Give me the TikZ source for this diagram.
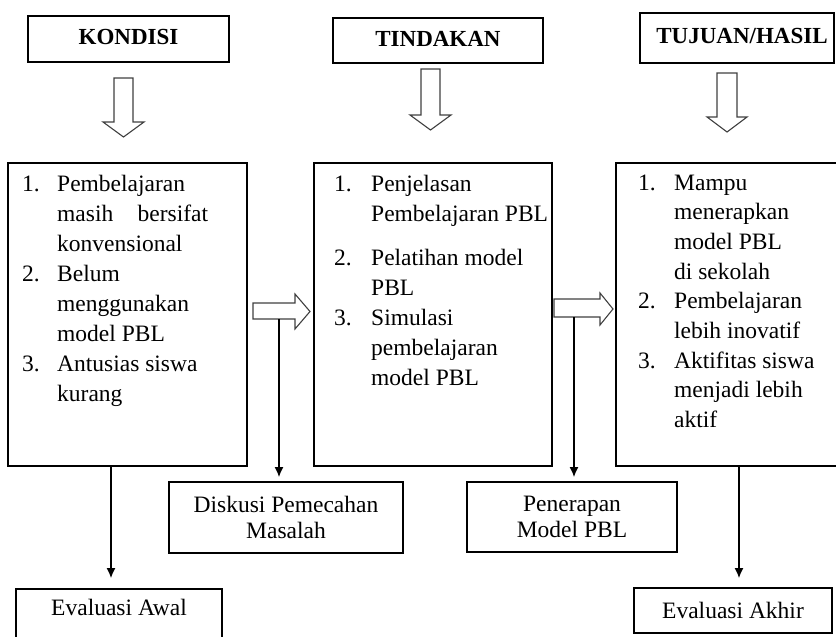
\documentclass[tikz,border=0pt]{standalone}
\usepackage{fontspec}
\setmainfont{Liberation Serif}
\usetikzlibrary{arrows.meta}
\begin{document}
\begin{tikzpicture}[x=1pt,y=-1pt,
  box/.style={draw, line width=1.2pt, inner sep=0pt, outer sep=0pt, font=\fontsize{23.5}{26}\selectfont},
  headbox/.style={box, font=\bfseries\fontsize{23}{26}\selectfont, text depth=4pt},
  hollow/.style={draw=black!75, line width=1.1pt, fill=white, line join=miter},
  thinarrow/.style={line width=1.2pt, -{Latex[length=10pt,width=9pt]}},
  listtext/.style={inner sep=0pt, anchor=base west, font=\fontsize{23.5}{30}\selectfont}]
\useasboundingbox (0,0) rectangle (836,637);

% heading boxes
\node[headbox, minimum width=201pt, minimum height=46pt, anchor=north west] (kond) at (28,16) {KONDISI};
\node[headbox, minimum width=210pt, minimum height=45pt, anchor=north west] (tind) at (333,18) {TINDAKAN};
\node[headbox, minimum width=194pt, minimum height=50pt, anchor=north west] (tuj) at (640,13) {\hspace*{10pt}TUJUAN/HASIL};

% hollow down arrows
\draw[hollow] (114,78) -- (133,78) -- (133,122) -- (144,122) -- (123.5,137) -- (103,122) -- (114,122) -- cycle;
\draw[hollow] (421,69) -- (440,69) -- (440,115) -- (451,115) -- (430.5,130) -- (410,115) -- (421,115) -- cycle;
\draw[hollow] (717,73) -- (737,73) -- (737,117) -- (747,117) -- (727,132) -- (707,117) -- (717,117) -- cycle;

% main boxes
\node[box, minimum width=239pt, minimum height=303pt, anchor=north west] (b1) at (8,163) {};
\node[box, minimum width=238pt, minimum height=303pt, anchor=north west] (b2) at (314,163) {};
\node[box, minimum width=240pt, minimum height=303pt, anchor=north west] (b3) at (616,163) {};

\node[listtext] (t1) at (22,191) {\begin{tabular}[t]{@{}p{35pt}@{}l@{}}
1. & Pembelajaran\\
   & \makebox[151pt][s]{masih\hfill bersifat}\\
   & konvensional\\
2. & Belum\\
   & menggunakan\\
   & model PBL\\
3. & Antusias siswa\\
   & kurang
\end{tabular}};

\node[listtext] (t2) at (334,191) {\begin{tabular}[t]{@{}p{37pt}@{}l@{}}
1. & Penjelasan\\
   & Pembelajaran PBL\\[14pt]
2. & Pelatihan model\\
   & PBL\\
3. & Simulasi\\
   & pembelajaran\\
   & model PBL
\end{tabular}};

\node[listtext, font=\fontsize{23.5}{29.7}\selectfont] (t3) at (638,190) {\begin{tabular}[t]{@{}p{36pt}@{}l@{}}
1. & Mampu\\
   & menerapkan\\
   & model PBL\\
   & di sekolah\\
2. & Pembelajaran\\
   & lebih inovatif\\
3. & Aktifitas siswa\\
   & menjadi lebih\\
   & aktif
\end{tabular}};

% hollow right arrows
\draw[hollow] (253,303) -- (295,303) -- (295,294) -- (310,311.5) -- (295,329) -- (295,319) -- (253,319) -- cycle;
\coordinate (r1) at (279,319);
\draw[hollow] (554,299) -- (600,299) -- (600,293) -- (613,309) -- (600,325) -- (600,317) -- (554,317) -- cycle;
\coordinate (r2) at (574,317);

% lower boxes
\node[box, minimum width=234pt, minimum height=71pt, anchor=north west, align=center] (disk) at (169,482) {Diskusi Pemecahan\\Masalah};
\node[box, minimum width=210pt, minimum height=70pt, anchor=north west, align=center] (pen) at (467,482) {Penerapan\\Model PBL};
\node[box, minimum width=206pt, text height=15pt, text depth=30pt, inner ysep=11pt, anchor=north west] (awal) at (16,589) {Evaluasi Awal};
\node[box, minimum width=198pt, minimum height=45pt, anchor=north west] (akhir) at (634,588) {Evaluasi Akhir};

% thin arrows
\coordinate (x1) at (111,0);
\coordinate (x3) at (739,0);
\draw[thinarrow, shorten >=11pt] (b1.south -| x1) -- (awal.north -| x1);
\draw[thinarrow, shorten >=5pt] (r1) -- (disk.north -| r1);
\draw[thinarrow, shorten >=5pt] (r2) -- (pen.north -| r2);
\draw[thinarrow, shorten >=10pt] (b3.south -| x3) -- (akhir.north -| x3);
\end{tikzpicture}
\end{document}
